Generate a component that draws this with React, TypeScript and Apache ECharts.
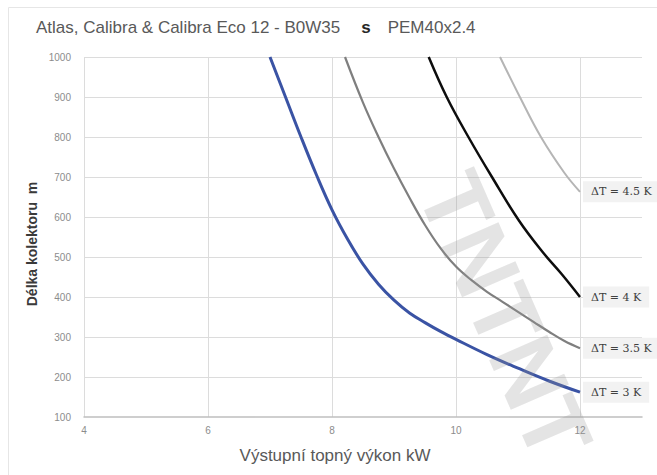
import React, { useEffect, useRef } from "react";
import * as echarts from "echarts";

// ---- data ----
const blueX = [7.0, 7.25, 7.5, 7.75, 8.0, 8.25, 8.5, 8.75, 9.0, 9.25, 9.5, 9.75, 10.0, 10.5, 11.0, 11.5, 12.0];
const blueY = [1000, 900, 800, 705, 618, 545, 482, 432, 392, 360, 336, 314, 294, 256, 222, 190, 162];

const grayX = [8.21, 8.5, 8.75, 9.0, 9.25, 9.5, 9.75, 10.0, 10.25, 10.5, 10.75, 11.0, 11.25, 11.5, 11.75, 12.0];
const grayY = [1000, 886, 800, 721, 648, 580, 522, 476, 442, 413, 388, 363, 338, 313, 290, 272];

const blackX = [9.56, 9.85, 10.2, 10.58, 11.02, 11.41, 11.7, 12.0];
const blackY = [1000, 900, 800, 700, 590, 510, 458, 400];

const lightX = [10.71, 11.03, 11.37, 11.75, 12.0];
const lightY = [1000, 900, 800, 710, 663];

const seriesNames = ["ΔT = 3 K", "ΔT = 3.5 K", "ΔT = 4 K", "ΔT = 4.5 K"];

const titleMain = "Atlas, Calibra & Calibra Eco 12 - B0W35";
const titleMid = "s";
const titleEnd = "PEM40x2.4";
const xAxisName = "Výstupní topný výkon kW";
const yAxisName = "Délka kolektoru  m";
const watermark = "TNTNT";

const xMin = 4;
const xMax = 13;
const xStep = 2;
const yMin = 100;
const yMax = 1000;
const yStep = 100;

function pairs(xs: number[], ys: number[]) {
  return xs.map((x, i) => [x, ys[i]]);
}

export default function App() {
  const ref = useRef<HTMLDivElement>(null);

  useEffect(() => {
    if (!ref.current) return;
    const chart = echarts.init(ref.current, undefined, { renderer: "svg" });

    const mkSeries = (name: string, xs: number[], ys: number[], color: string, width: number) => ({
      name,
      type: "line",
      data: pairs(xs, ys),
      smooth: 0.4,
      showSymbol: false,
      symbol: "none",
      lineStyle: { color, width },
      itemStyle: { color },
      endLabel: {
        show: true,
        formatter: name,
        distance: 3,
        fontFamily: "DejaVu Serif",
        fontSize: 11,
        color: "#404040",
        backgroundColor: "#f2f2f2",
        padding: [5, 8, 5, 8],
      },
      clip: false,
      z: 3,
    });

    chart.setOption({
      animation: false,
      backgroundColor: "#ffffff",
      title: {
        left: 36,
        top: 19,
        padding: 0,
        text: `{a|${titleMain}}{b|${titleMid}}{a|${titleEnd}}`,
        textStyle: {
          fontWeight: "normal",
          rich: {
            a: { fontFamily: "Liberation Sans", fontSize: 17, fontWeight: "normal", color: "#595959" },
            b: {
              fontFamily: "Liberation Sans",
              fontSize: 17,
              fontWeight: "bold",
              color: "#262626",
              padding: [0, 17, 0, 21],
            },
          },
        },
      },
      grid: { left: 84, right: 15, top: 57, bottom: 58 },
      xAxis: {
        type: "value",
        min: xMin,
        max: xMax,
        interval: xStep,
        axisLine: { show: true, lineStyle: { color: "#bfbfbf", width: 1.5 } },
        axisTick: { show: false },
        axisLabel: {
          showMaxLabel: false,
          fontFamily: "Liberation Sans",
          fontSize: 10,
          color: "#8c8c8c",
          margin: 8,
        },
        splitLine: { show: true, showMaxLine: false, lineStyle: { color: "#dcdcdc", width: 1 } },
      },
      yAxis: {
        type: "value",
        min: yMin,
        max: yMax,
        interval: yStep,
        axisLine: { show: false },
        axisTick: { show: false },
        axisLabel: {
          fontFamily: "Liberation Sans",
          fontSize: 10,
          color: "#8c8c8c",
          margin: 13,
          formatter: (v: number) => String(v),
        },
        splitLine: { show: true, showMinLine: false, lineStyle: { color: "#dcdcdc", width: 1 } },
      },
      graphic: [
        {
          type: "rect",
          silent: true,
          shape: { x: 8.5, y: 7.5, width: 700, height: 500 },
          style: { fill: "none", stroke: "#e6e6e6", lineWidth: 1 },
          z: 0,
        },
        {
          type: "text",
          silent: true,
          x: 335,
          y: 455,
          style: {
            text: xAxisName,
            fontFamily: "Liberation Sans",
            fontSize: 17,
            fill: "#595959",
            align: "center",
            verticalAlign: "middle",
          },
        },
        {
          type: "text",
          silent: true,
          x: 32,
          y: 244,
          rotation: Math.PI / 2,
          style: {
            text: yAxisName,
            fontFamily: "Liberation Sans",
            fontSize: 14,
            fontWeight: "bold",
            fill: "#3a3a3a",
            align: "center",
            verticalAlign: "middle",
          },
        },
        {
          type: "text",
          silent: true,
          x: 505,
          y: 316,
          rotation: (-66.5 * Math.PI) / 180,
          z: 10,
          style: {
            text: watermark,
            fontFamily: "Liberation Sans",
            fontSize: 92,
            fontWeight: "bold",
            fill: "rgba(150,150,150,0.26)",
            align: "center",
            verticalAlign: "middle",
          },
        },
      ],
      series: [
        mkSeries(seriesNames[0], blueX, blueY, "#3a53a4", 3),
        mkSeries(seriesNames[1], grayX, grayY, "#7f7f7f", 2.2),
        mkSeries(seriesNames[2], blackX, blackY, "#0d0d0d", 2.5),
        mkSeries(seriesNames[3], lightX, lightY, "#b5b5b5", 2),
      ],
    });

    return () => chart.dispose();
  }, []);

  return (
    <div
      ref={ref}
      style={{ position: "fixed", left: 0, top: 0, width: 657, height: 475 }}
    />
  );
}
